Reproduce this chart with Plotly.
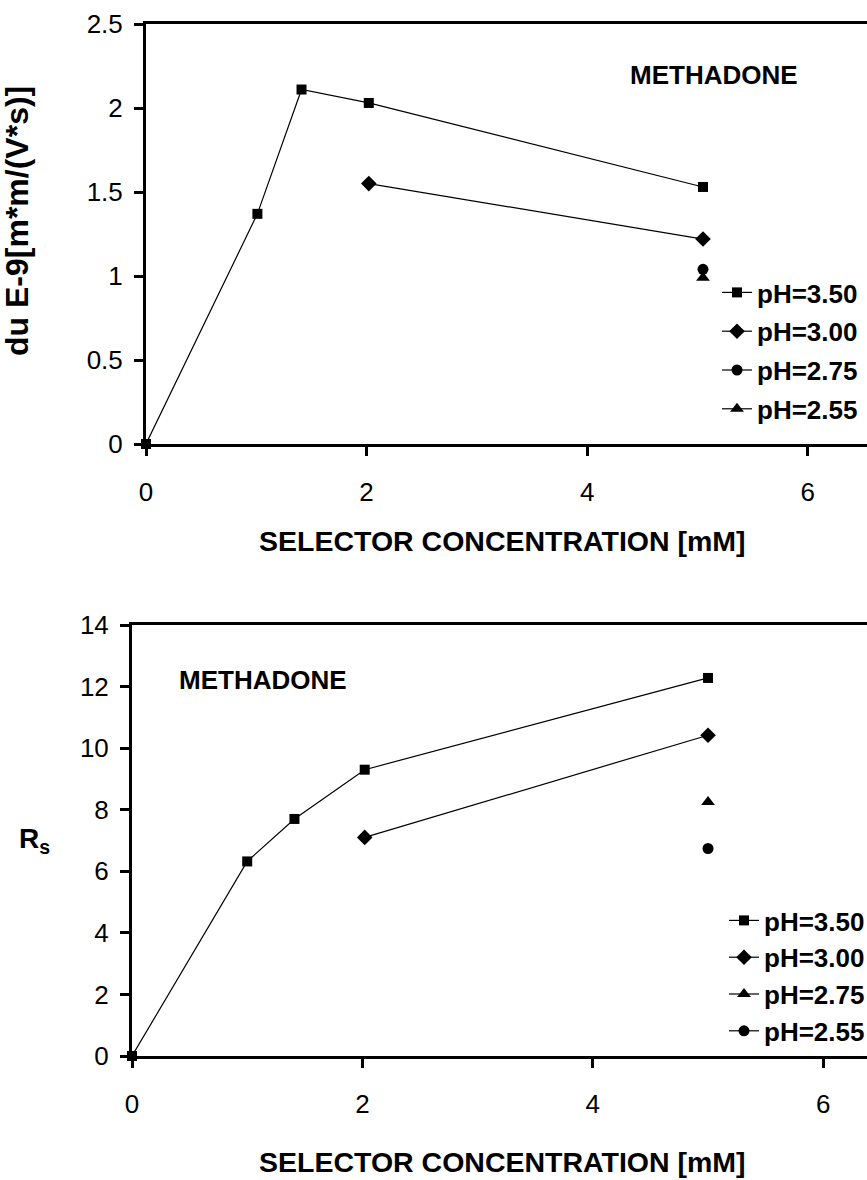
import plotly.graph_objects as go

# ---- data: top panel (mobility difference) ----
top_x_35 = [0, 1.01, 1.41, 2.02, 5.05]
top_y_35 = [0, 1.37, 2.11, 2.03, 1.53]
top_x_30 = [2.02, 5.05]
top_y_30 = [1.55, 1.22]
top_x_275 = [5.05]
top_y_275 = [1.04]
top_x_255 = [5.05]
top_y_255 = [0.99]

# ---- data: bottom panel (resolution Rs) ----
bot_x_35 = [0, 1.0, 1.41, 2.02, 5.0]
bot_y_35 = [0, 6.32, 7.70, 9.30, 12.28]
bot_x_30 = [2.02, 5.0]
bot_y_30 = [7.10, 10.42]
bot_x_275 = [5.0]
bot_y_275 = [8.25]
bot_x_255 = [5.0]
bot_y_255 = [6.74]

x_ticks = [0, 2, 4, 6]
top_y_ticks = [0, 0.5, 1, 1.5, 2, 2.5]
bot_y_ticks = [0, 2, 4, 6, 8, 10, 12, 14]

W, H = 867, 1180
FONT = "Liberation Sans, Arial, sans-serif"

fig = go.Figure()

def add(x, y, name, symbol, size, xa, ya, legend, group):
    fig.add_trace(go.Scatter(
        x=x, y=y, name="<b>" + name + "</b>", mode="lines+markers",
        line=dict(color="black", width=1.2),
        marker=dict(symbol=symbol, size=size, color="black"),
        xaxis=xa, yaxis=ya, legend=legend, legendgroup=group,
        cliponaxis=False,
    ))

add(top_x_35, top_y_35, "pH=3.50", "square", 10, "x", "y", "legend", "a1")
add(top_x_30, top_y_30, "pH=3.00", "diamond", 12, "x", "y", "legend", "a2")
add(top_x_275, top_y_275, "pH=2.75", "circle", 11, "x", "y", "legend", "a3")
add(top_x_255, top_y_255, "pH=2.55", "triangle-up", 12, "x", "y", "legend", "a4")

add(bot_x_35, bot_y_35, "pH=3.50", "square", 10, "x2", "y2", "legend2", "b1")
add(bot_x_30, bot_y_30, "pH=3.00", "diamond", 12, "x2", "y2", "legend2", "b2")
add(bot_x_275, bot_y_275, "pH=2.75", "triangle-up", 12, "x2", "y2", "legend2", "b3")
add(bot_x_255, bot_y_255, "pH=2.55", "circle", 11, "x2", "y2", "legend2", "b4")

def px_x(p):
    return p / W

def px_y(p):
    return 1 - p / H

axis_common = dict(
    showline=True, linecolor="black", linewidth=3,
    ticks="outside", ticklen=9, tickwidth=3, tickcolor="black",
    showgrid=False, zeroline=False, automargin=False,
    tickfont=dict(family=FONT, size=26, color="black"),
)
xstyle = dict(ticklabelstandoff=14, **axis_common)
ystyle = dict(ticklabelstandoff=6, **axis_common)

fig.update_layout(
    template="none",
    width=W, height=H,
    margin=dict(l=0, r=0, t=0, b=0, autoexpand=False),
    paper_bgcolor="white", plot_bgcolor="white",
    font=dict(family=FONT, color="black"),
    xaxis=dict(domain=[px_x(146), 1], range=[0, 6.537], tickvals=x_ticks,
               anchor="y", mirror=True, **xstyle),
    yaxis=dict(domain=[px_y(444), px_y(24)], range=[0, 2.5], tickvals=top_y_ticks,
               anchor="x", **ystyle),
    xaxis2=dict(domain=[px_x(132), 1], range=[0, 6.38], tickvals=x_ticks,
                anchor="y2", mirror=True, **xstyle),
    yaxis2=dict(domain=[px_y(1056), px_y(625)], range=[0, 14], tickvals=bot_y_ticks,
                anchor="x2", **ystyle),
    legend=dict(x=px_x(717), y=px_y(269), xanchor="left", yanchor="top",
                bgcolor="rgba(0,0,0,0)", tracegroupgap=2, borderwidth=0,
                font=dict(family=FONT, size=26, color="black"),
                itemwidth=30),
    legend2=dict(x=px_x(724), y=px_y(897), xanchor="left", yanchor="top",
                 bgcolor="rgba(0,0,0,0)", tracegroupgap=0, borderwidth=0,
                 font=dict(family=FONT, size=26, color="black"),
                 itemwidth=30),
    showlegend=True,
)

def ann(x, y, text, size, angle=0):
    fig.add_annotation(x=px_x(x), y=px_y(y), xref="paper", yref="paper",
                       xanchor="center", yanchor="middle",
                       text=text, showarrow=False, textangle=angle,
                       font=dict(family=FONT, size=size, color="black"))

ann(714, 75, "<b>METHADONE</b>", 26)
ann(263, 680, "<b>METHADONE</b>", 26)
ann(502, 541, "<b>SELECTOR CONCENTRATION [mM]</b>", 28.5)
ann(502, 1162, "<b>SELECTOR CONCENTRATION [mM]</b>", 28.5)
ann(17, 221, "<b>du E-9[m*m/(V*s)]</b>", 32, -90)
ann(34, 840, "<b>R<sub>s</sub></b>", 28)

fig.write_html("out.html")
